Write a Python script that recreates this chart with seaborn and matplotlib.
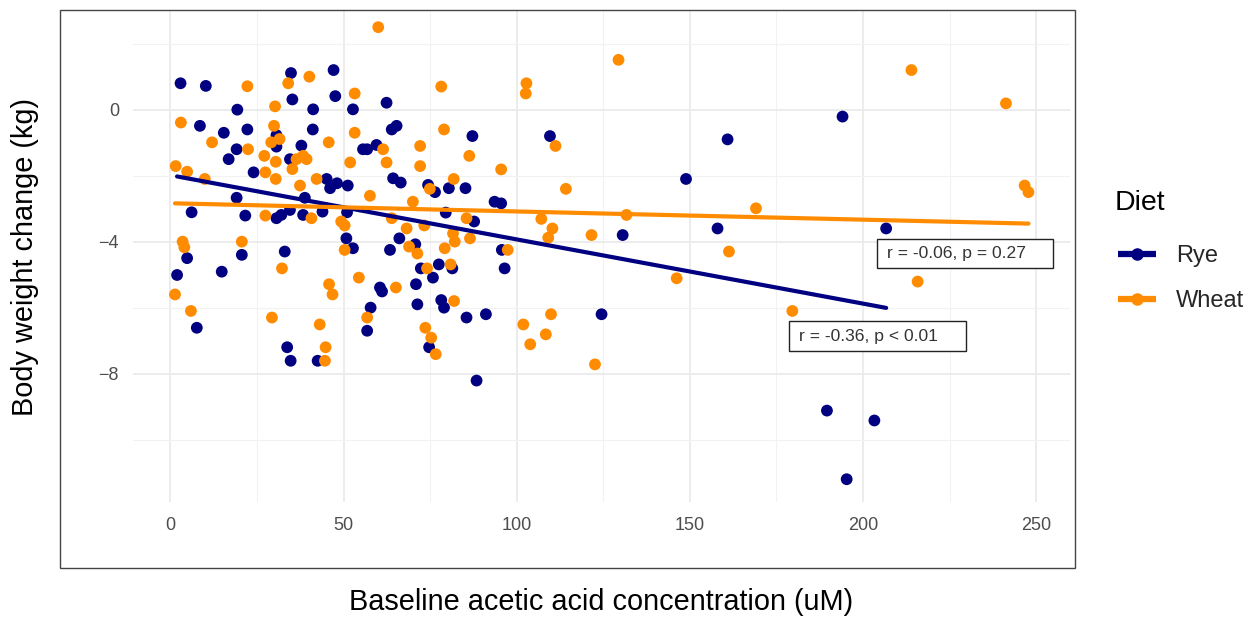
import numpy as np
import pandas as pd
import matplotlib
matplotlib.use("Agg")
import matplotlib.pyplot as plt
from matplotlib.lines import Line2D
from matplotlib.patches import Rectangle
from matplotlib.ticker import MultipleLocator
import seaborn as sns

# ---------------- data ----------------
rye_x = [2.9, 10.2, 34.8, 47.1, 35.2, 47.6, 19.3, 41.2, 8.5, 15.4, 22.2, 30.6, 41.1, 30.6, 37.8,
         19.1, 16.8, 34.5, 24.0, 45.1, 46.1, 48.1, 19.1, 38.8, 6.1, 21.6, 30.6, 32.0, 34.5, 38.3,
         43.9, 4.8, 20.6, 33.0, 1.9, 14.8, 7.6, 33.7, 34.7, 42.5,
         52.7, 62.4, 63.9, 65.3, 55.6, 56.8, 59.5, 87.2, 51.2, 64.3, 66.5, 74.4, 76.4, 80.4, 85.2,
         93.6, 95.5, 51.0, 79.5, 87.7, 50.8, 52.7, 66.1, 70.7, 63.4, 95.7,
         96.5, 72.3, 77.5, 75.8, 81.4, 60.5, 61.1, 70.9, 71.3, 78.2, 79.0, 57.8, 56.8, 85.5, 91.1,
         74.7, 88.4,
         109.6, 160.9, 148.9, 130.6, 158.0, 124.5,
         194.1, 206.7, 189.6, 203.3, 195.3]
rye_y = [0.81, 0.73, 1.12, 1.21, 0.32, 0.42, 0.01, 0.02, -0.48, -0.69, -0.59, -0.76, -0.59, -1.11, -1.08,
         -1.19, -1.49, -1.49, -1.89, -2.09, -2.37, -2.22, -2.66, -2.66, -3.10, -3.20, -3.28, -3.18, -3.03, -3.18,
         -3.08, -4.49, -4.39, -4.29, -5.00, -4.90, -6.60, -7.19, -7.60, -7.60,
         0.02, 0.22, -0.59, -0.48, -1.19, -1.19, -1.06, -0.79, -2.29, -2.07, -2.20, -2.27, -2.49, -2.37, -2.37,
         -2.78, -2.83, -3.10, -3.11, -3.38, -3.89, -4.19, -3.89, -4.07, -4.24, -4.24,
         -4.80, -4.80, -4.68, -5.08, -4.80, -5.38, -5.50, -5.28, -5.89, -5.76, -5.99, -5.99, -6.69, -6.29, -6.19,
         -7.19, -8.20,
         -0.79, -0.89, -2.09, -3.79, -3.59, -6.19,
         -0.20, -3.59, -9.11, -9.41, -11.19]

wheat_x = [22.2, 34.0, 40.1, 30.2, 3.0, 29.9, 12.0, 29.1, 31.5, 45.7, 22.4, 27.1, 30.4, 36.4, 39.3,
           38.3, 1.5, 4.8, 35.2, 27.4, 30.4, 9.9, 42.2, 37.4, 27.4, 40.7, 3.5, 4.0, 20.6,
           32.2, 1.3, 45.8, 46.8, 5.9, 29.3, 43.1, 44.8, 44.6,
           60.0, 53.2, 78.2, 102.8, 102.6, 53.2, 61.4, 72.1, 79.0, 86.3, 51.9, 62.4, 72.1, 95.5, 74.9,
           81.8, 57.6, 70.0, 63.9, 85.5, 49.3, 50.3, 68.2, 73.3, 81.6, 82.1, 86.5, 50.3, 68.9, 71.3,
           79.2, 97.4,
           74.1, 80.9, 54.4, 65.1, 81.9, 56.8, 73.6, 75.3, 76.6, 101.9, 103.9,
           129.4, 111.2, 114.2, 169.1, 131.7, 107.1, 110.3, 109.1, 121.6, 161.3, 146.2, 179.6, 109.9,
           108.4, 122.6,
           214.0, 241.3, 246.7, 247.8, 215.8]
wheat_y = [0.72, 0.81, 1.01, 0.11, -0.38, -0.48, -0.98, -0.98, -0.88, -0.98, -1.19, -1.39, -1.57, -1.49, -1.49,
           -1.39, -1.70, -1.87, -1.79, -1.89, -2.09, -2.09, -2.09, -2.29, -3.20, -3.28, -3.99, -4.16, -3.99,
           -4.80, -5.59, -5.28, -5.59, -6.09, -6.29, -6.50, -7.19, -7.60,
           2.51, 0.50, 0.71, 0.81, 0.50, -0.69, -1.19, -1.09, -0.59, -1.39, -1.59, -1.59, -1.70, -1.80, -2.39,
           -2.09, -2.60, -2.78, -3.28, -3.28, -3.38, -3.50, -3.59, -3.50, -3.74, -3.99, -3.89, -4.24, -4.14, -4.35,
           -4.19, -4.24,
           -4.80, -4.68, -5.08, -5.38, -5.79, -6.29, -6.60, -6.90, -7.40, -6.50, -7.10,
           1.52, -1.09, -2.39, -2.98, -3.18, -3.30, -3.59, -3.87, -3.79, -4.29, -5.10, -6.09, -6.19,
           -6.80, -7.71,
           1.21, 0.20, -2.29, -2.49, -5.20]

diets = ["Rye", "Wheat"]
colors = {"Rye": "#000080", "Wheat": "#FF8C00"}
cor_labels = {"Rye": "r = -0.36, p < 0.01", "Wheat": "r = -0.06, p = 0.27"}
# label text anchor (x, y) and label box (x0, x1, y0, y1) in data units
cor_text = {"Rye": (181.5, -6.85), "Wheat": (206.9, -4.36)}
cor_box = {"Rye": (178.5, 229.7, -7.29, -6.39), "Wheat": (204.0, 255.0, -4.80, -3.92)}

legend_title = "Diet"
x_label = "Baseline acetic acid concentration (uM)"
y_label = "Body weight change (kg)"

df = pd.DataFrame({
    "x": rye_x + wheat_x,
    "y": rye_y + wheat_y,
    "Diet": ["Rye"] * len(rye_x) + ["Wheat"] * len(wheat_x),
})

# ---------------- figure ----------------
sns.set_theme(style="white")
plt.rcParams["font.family"] = ["Liberation Sans", "DejaVu Sans"]

W, H = 1255, 619
fig = plt.figure(figsize=(W / 100, H / 100), dpi=100)
fig.patch.set_facecolor("white")

# outer frame around plot panel
fig.add_artist(Rectangle((60 / W, 1 - 568 / H), (1075 - 60) / W, (568 - 10) / H,
                         transform=fig.transFigure, fill=False, edgecolor="#444444", lw=1.0))

ax_l, ax_r, ax_t, ax_b = 133, 1070, 11, 502
ax = fig.add_axes([ax_l / W, 1 - ax_b / H, (ax_r - ax_l) / W, (ax_b - ax_t) / H])

sns.scatterplot(data=df, x="x", y="y", hue="Diet", palette=colors, hue_order=diets,
                s=72, edgecolor="none", linewidth=0, ax=ax, legend=False, zorder=3)
for d in diets:
    sub = df[df["Diet"] == d]
    sns.regplot(data=sub, x="x", y="y", scatter=False, ci=None, truncate=True,
                color=colors[d], line_kws={"lw": 3.0, "zorder": 4}, ax=ax)

ax.set_xlim(-10.83, 259.8)
ax.set_ylim(-11.88, 3.0)

ax.xaxis.set_major_locator(MultipleLocator(50))
ax.xaxis.set_minor_locator(MultipleLocator(25))
ax.yaxis.set_major_locator(MultipleLocator(4))
ax.yaxis.set_minor_locator(MultipleLocator(2))
ax.grid(which="major", color="#EBEBEB", lw=1.3, zorder=0)
ax.grid(which="minor", color="#F2F2F2", lw=0.8, zorder=0)
ax.set_axisbelow(True)
for s in ax.spines.values():
    s.set_visible(False)
ax.tick_params(axis="both", which="both", length=0, labelsize=13, labelcolor="#4D4D4D")
ax.tick_params(axis="x", pad=11)
ax.tick_params(axis="y", pad=10)

ax.set_xlabel(x_label, fontsize=20.8, color="black")
ax.set_ylabel(y_label, fontsize=20.8, color="black")
ax.xaxis.set_label_coords(0.5, -0.204)
ax.yaxis.set_label_coords(-0.1153, 0.5)
ax.xaxis.label.set_va("center")
ax.yaxis.label.set_va("center")

for d in diets:
    x0, x1, y0, y1 = cor_box[d]
    ax.add_patch(Rectangle((x0, y0), x1 - x0, y1 - y0, facecolor="white",
                           edgecolor="#222222", lw=1.0, zorder=5))
    tx, ty = cor_text[d]
    ax.text(tx, ty, cor_labels[d], fontsize=12.6, color="#333333", ha="left", va="center", zorder=6)

# legend
fig.text(1115 / W, 1 - 203 / H, legend_title, fontsize=20.5, color="black", ha="left", va="center")
handles = [Line2D([0], [0], color=colors[d], lw=4.5, marker="o", markersize=8,
                  solid_capstyle="butt") for d in diets]
leg = fig.legend(handles, diets, loc="upper left",
                 bbox_to_anchor=(1097 / W, 1 - 224 / H), frameon=False,
                 fontsize=17, handlelength=1.6, handletextpad=0.85,
                 labelspacing=0.98)

fig.savefig("out.png", dpi=100, facecolor="white")
